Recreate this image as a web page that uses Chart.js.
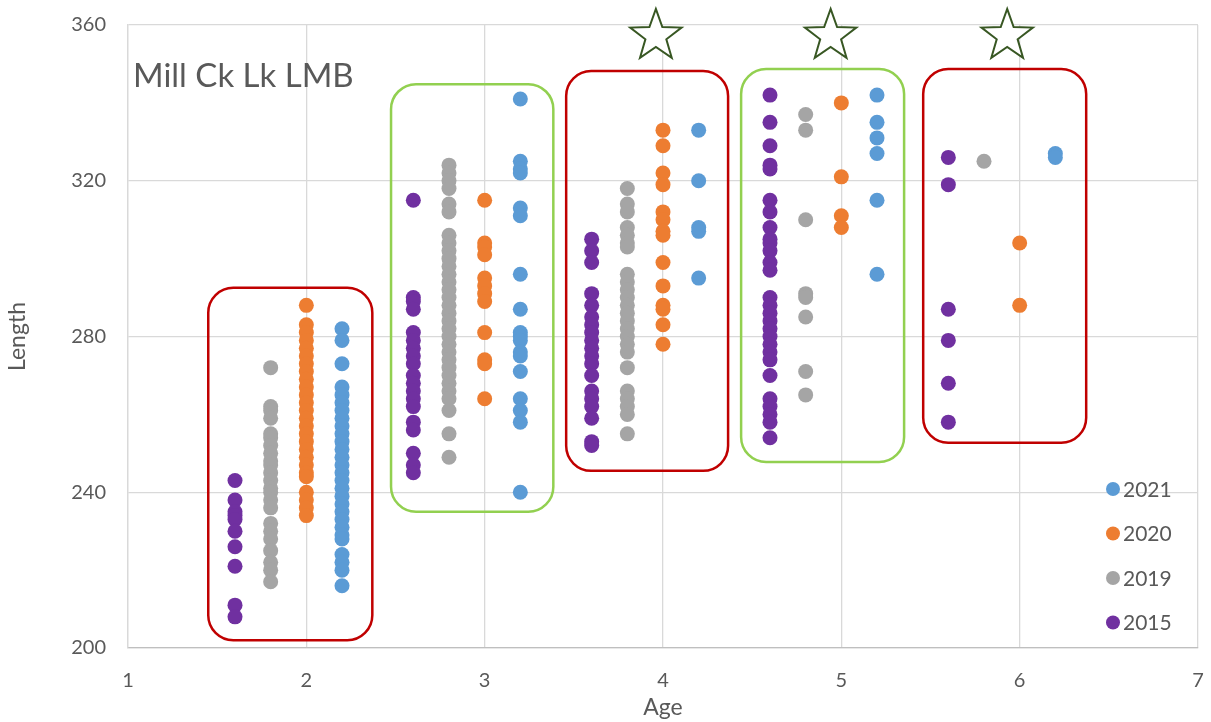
<!DOCTYPE html>
<html>
<head>
<meta charset="utf-8">
<title>Mill Ck Lk LMB</title>
<script src="https://cdn.jsdelivr.net/npm/chart.js@4.4.0/dist/chart.umd.min.js"></script>
<style>
  html, body { margin: 0; padding: 0; background: #fff; }
  #wrap { width: 1211px; height: 722px; position: relative; }
</style>
</head>
<body>
<div id="wrap"><canvas id="chart" width="1211" height="722"></canvas></div>
<script>
// Age groups and the x offset each year is plotted at
const ages = [2, 3, 4, 5, 6];
const xTicks = [1, 2, 3, 4, 5, 6, 7];
const yTicks = [200, 240, 280, 320, 360];

// Lengths, one list per age group
const len2015 = [
    [243, 238, 235, 234, 233, 230, 226, 221, 211, 208],
    [315, 290, 289, 287, 281, 279, 277, 275, 273, 270, 268, 266, 264, 262, 258, 256, 250, 247, 245],
    [305, 302, 299, 291, 288, 285, 283, 281, 279, 277, 275, 273, 270, 266, 264, 262, 259, 253, 252],
    [342, 335, 329, 324, 323, 315, 312, 308, 305, 304, 302, 299, 297, 290, 288, 286, 284, 282, 280, 278, 276, 274, 270, 264, 262, 260, 258, 254],
    [326, 319, 287, 279, 268, 258]
];
const len2019 = [
    [272, 262, 261, 259, 255, 254, 252, 250, 248, 247, 245, 243, 241, 240, 238, 236, 232, 230, 228, 225, 222, 220, 217],
    [324, 322, 320, 318, 314, 312, 306, 304, 302, 300, 298, 296, 294, 292, 290, 288, 286, 284, 282, 280, 278, 276, 274, 272, 270, 268, 266, 264, 261, 255, 249],
    [318, 314, 312, 308, 306, 304, 303, 296, 294, 292, 290, 288, 286, 284, 282, 280, 278, 276, 272, 266, 264, 262, 260, 255],
    [337, 333, 310, 291, 290, 285, 271, 265],
    [325]
];
const len2020 = [
    [288, 283, 281, 279, 277, 275, 273, 271, 269, 267, 265, 263, 261, 259, 257, 255, 253, 251, 249, 247, 245, 244, 240, 238, 236, 234],
    [315, 304, 303, 301, 295, 293, 291, 289, 281, 274, 273, 264],
    [333, 329, 322, 319, 312, 310, 307, 306, 299, 293, 288, 287, 283, 278],
    [340, 321, 311, 308],
    [304, 288]
];
const len2021 = [
    [282, 279, 273, 267, 265, 263, 261, 259, 257, 255, 253, 251, 249, 247, 245, 243, 241, 239, 237, 235, 233, 231, 229, 228, 224, 222, 220, 216],
    [341, 325, 323, 322, 313, 311, 296, 287, 281, 280, 279, 276, 275, 271, 264, 261, 258, 240],
    [333, 320, 308, 307, 295],
    [342, 335, 331, 327, 315, 296],
    [327, 326]
];

// Annotation boxes in data units: [ageFrom, ageTo, lenTop, lenBottom, colour]
const boxes = [
    [1.45, 2.37, 292.5, 202, '#C00000'],
    [2.475, 3.385, 344.8, 235, '#92D050'],
    [3.457, 4.365, 348.2, 245.5, '#C00000'],
    [4.438, 5.352, 348.7, 247.8, '#92D050'],
    [5.459, 6.373, 348.7, 252.7, '#C00000']
];
const starAges = [3.96, 4.94, 5.93];
const starLength = 357.2;

const series = [
    { label: '2015', data: len2015, offset: -0.4, color: '#7030A0' },
    { label: '2019', data: len2019, offset: -0.2, color: '#A5A5A5' },
    { label: '2020', data: len2020, offset: 0, color: '#ED7D31' },
    { label: '2021', data: len2021, offset: 0.2, color: '#5B9BD5' }
];
const legendOrder = ['2021', '2020', '2019', '2015'];

const toPoints = (lists, off) => ages.flatMap((a, i) => lists[i].map(v => ({ x: a + off, y: v })));

const font = 'Lato, "Open Sans", sans-serif';
const grey = '#595959';

const roundRect = (ctx, x, y, w, h, r) => {
    ctx.beginPath();
    ctx.moveTo(x + r, y);
    ctx.arcTo(x + w, y, x + w, y + h, r);
    ctx.arcTo(x + w, y + h, x, y + h, r);
    ctx.arcTo(x, y + h, x, y, r);
    ctx.arcTo(x, y, x + w, y, r);
    ctx.closePath();
};

const drawStar = (ctx, cx, cy, outer, inner) => {
    ctx.beginPath();
    for (let i = 0; i < 10; i++) {
        const r = i % 2 === 0 ? outer : inner;
        const a = -Math.PI / 2 + i * Math.PI / 5;
        const px = cx + r * Math.cos(a);
        const py = cy + r * Math.sin(a);
        i === 0 ? ctx.moveTo(px, py) : ctx.lineTo(px, py);
    }
    ctx.closePath();
};

const extras = {
    id: 'extras',
    afterDatasetsDraw(chart) {
        const { ctx, chartArea, scales: { x, y } } = chart;
        ctx.save();

        // rounded boxes around each age group
        boxes.forEach(([x0, x1, yTop, yBot, color]) => {
            const left = x.getPixelForValue(x0);
            const right = x.getPixelForValue(x1);
            const top = y.getPixelForValue(yTop);
            const bottom = y.getPixelForValue(yBot);
            roundRect(ctx, left, top, right - left, bottom - top, 25);
            ctx.lineWidth = 2.5;
            ctx.strokeStyle = color;
            ctx.stroke();
        });

        // outlined stars
        starAges.forEach(a => {
            drawStar(ctx, x.getPixelForValue(a), y.getPixelForValue(starLength), 27, 11);
            ctx.fillStyle = '#fff';
            ctx.fill();
            ctx.lineWidth = 2;
            ctx.strokeStyle = '#385723';
            ctx.stroke();
        });

        // chart label
        ctx.fillStyle = grey;
        ctx.font = `33px ${font}`;
        ctx.textAlign = 'left';
        ctx.textBaseline = 'middle';
        ctx.fillText('Mill Ck Lk LMB', chartArea.left + 5, chartArea.top + 51);

        // legend inside plot area, bottom right
        ctx.font = `21px ${font}`;
        legendOrder.forEach((lab, i) => {
            const s = series.find(d => d.label === lab);
            const cy = chartArea.bottom - 159 + i * 44.5;
            ctx.beginPath();
            ctx.arc(chartArea.right - 85, cy, 7, 0, Math.PI * 2);
            ctx.fillStyle = s.color;
            ctx.fill();
            ctx.fillStyle = grey;
            ctx.fillText(lab, chartArea.right - 75, cy + 1);
        });
        ctx.restore();
    }
};

new Chart(document.getElementById('chart'), {
    type: 'scatter',
    data: {
        datasets: series.map(s => ({
            label: s.label,
            data: toPoints(s.data, s.offset),
            backgroundColor: s.color,
            borderColor: s.color,
            borderWidth: 0,
            pointRadius: 7.5,
            pointHoverRadius: 7.5
        }))
    },
    options: {
        responsive: false,
        animation: false,
        layout: { autoPadding: false, padding: { top: 25, right: 13, left: 0, bottom: 0 } },
        plugins: {
            legend: { display: false },
            tooltip: { enabled: false }
        },
        scales: {
            x: {
                type: 'linear',
                min: 1,
                max: 7,
                afterBuildTicks: scale => { scale.ticks = xTicks.map(v => ({ value: v })); },
                afterFit: scale => { scale.height = 74; scale.paddingRight = 0; scale.paddingLeft = 0; },
                ticks: { color: grey, font: { family: font, size: 20 }, padding: 21 },
                grid: { color: '#D9D9D9', lineWidth: 1.3, drawTicks: false },
                border: { color: '#BFBFBF', width: 1.3 },
                title: { display: true, text: 'Age', color: grey, font: { family: font, size: 23 }, padding: { top: 0, bottom: 1 } }
            },
            y: {
                type: 'linear',
                min: 200,
                max: 360,
                afterBuildTicks: scale => { scale.ticks = yTicks.map(v => ({ value: v })); },
                afterFit: scale => { scale.width = 128; scale.paddingTop = 0; scale.paddingBottom = 0; },
                ticks: { color: grey, font: { family: font, size: 20 }, padding: 22 },
                grid: { color: '#D9D9D9', lineWidth: 1.3, drawTicks: false },
                border: { color: '#D9D9D9', width: 1.3 },
                title: { display: true, text: 'Length', color: grey, font: { family: font, size: 23 }, padding: { top: 4, bottom: 0 } }
            }
        }
    },
    plugins: [extras]
});
</script>
</body>
</html>
